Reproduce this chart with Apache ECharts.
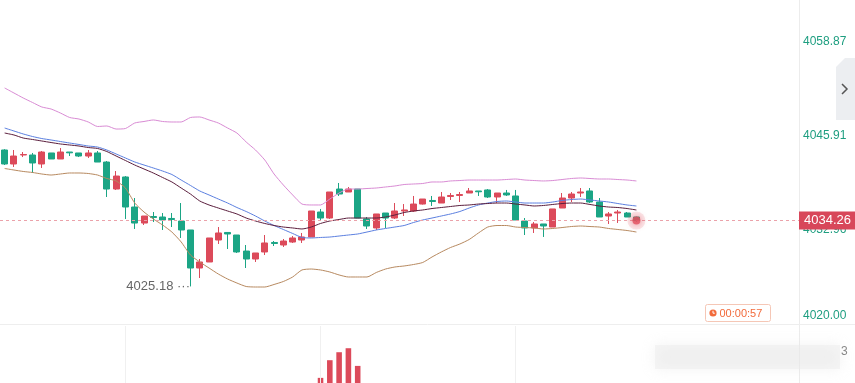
<!DOCTYPE html>
<html><head><meta charset="utf-8">
<script src="https://cdn.jsdelivr.net/npm/echarts@6/dist/echarts.min.js"></script>
<style>html,body{margin:0;padding:0;background:#fff}#c{width:855px;height:383px}</style>
</head><body><div id="c"></div>
<script>
// ---- data ----
const openP = [4043.99,4042.06,4043.30,4043.30,4042.06,4043.58,4042.75,4043.71,4043.58,4043.16,
4043.58,4042.33,4038.61,4040.27,4036.13,4033.92,4034.82,4034.75,4034.55,4034.20,
4032.96,4027.72,4028.55,4031.58,4032.62,4032.27,4030.06,4028.96,4029.93,4031.24,
4030.89,4031.30,4031.58,4032.00,4035.44,4034.61,4038.61,4038.20,4038.61,4034.48,
4033.24,4035.30,4034.61,4035.58,4035.58,4036.54,4037.03,4036.68,4037.58,4037.72,
4038.06,4038.34,4038.48,4037.51,4038.06,4037.65,4034.20,4033.24,4033.79,4033.37,
4035.99,4037.37,4038.06,4038.34,4036.82,4034.89,4035.30,4035.30,4034.75];
const closeP = [4042.06,4043.16,4043.37,4042.20,4043.71,4042.75,4043.71,4043.60,4043.16,4043.58,
4042.33,4038.61,4040.40,4036.13,4033.92,4034.89,4034.68,4034.34,4034.41,4032.96,
4027.72,4028.55,4031.86,4032.55,4032.41,4029.93,4028.96,4029.79,4031.17,4031.10,
4031.44,4031.86,4032.00,4035.58,4034.61,4038.20,4037.92,4038.61,4034.61,4033.51,
4035.17,4034.61,4035.58,4035.72,4036.54,4037.23,4036.89,4037.51,4037.72,4037.85,
4038.34,4038.23,4037.51,4038.06,4037.79,4034.34,4033.24,4033.79,4033.51,4035.86,
4037.37,4037.92,4038.20,4036.82,4034.75,4035.17,4035.44,4034.75,4034.26];
const lowP = [4041.92,4041.65,4043.02,4040.82,4041.51,4042.75,4042.75,4043.16,4043.02,4042.89,
4042.33,4037.51,4038.48,4034.48,4033.10,4033.65,4034.06,4032.96,4033.37,4031.86,
4025.18,4026.34,4028.55,4031.03,4030.34,4029.79,4027.72,4028.55,4029.51,4030.75,
4030.62,4031.17,4031.17,4032.00,4034.34,4034.48,4037.65,4038.20,4034.61,4033.10,
4032.96,4033.24,4034.48,4034.89,4035.44,4036.47,4036.27,4036.68,4037.10,4036.82,
4038.06,4037.65,4037.37,4036.68,4037.65,4034.34,4032.27,4032.55,4032.00,4033.37,
4035.99,4036.82,4037.51,4036.68,4034.75,4033.79,4033.93,4034.75,4034.10];
const highP = [4044.10,4043.99,4043.71,4043.58,4043.85,4043.58,4044.26,4043.71,4043.58,4043.99,
4043.85,4042.47,4041.09,4040.40,4037.37,4034.89,4035.44,4035.30,4035.30,4036.68,
4032.96,4028.96,4031.86,4033.37,4032.68,4032.27,4030.89,4029.79,4032.27,4031.44,
4031.72,4032.13,4032.55,4035.58,4035.86,4038.20,4039.44,4038.89,4038.61,4034.75,
4035.17,4035.30,4036.68,4036.54,4037.65,4037.23,4037.65,4038.20,4038.06,4038.20,
4038.75,4038.34,4038.61,4038.06,4038.48,4038.48,4034.61,4034.06,4033.79,4035.86,
4038.06,4038.20,4038.75,4038.75,4037.37,4035.44,4035.72,4035.44,4034.80];
const bollUpper = [4052.54,4051.85,4051.16,4050.54,4049.92,4049.64,4049.09,4048.47,4048.26,4047.85,
4047.23,4047.30,4046.88,4046.95,4047.71,4047.92,4048.13,4047.92,4047.85,4047.85,
4048.47,4048.54,4048.13,4047.71,4047.02,4046.33,4045.09,4043.99,4042.61,4040.68,
4039.16,4037.79,4036.54,4036.41,4036.41,4037.23,4038.06,4038.61,4038.61,4038.68,
4038.75,4038.89,4039.03,4039.23,4039.30,4039.37,4039.58,4039.58,4039.72,4039.78,
4039.85,4039.85,4039.85,4039.85,4039.92,4039.99,4039.85,4039.78,4039.72,4039.78,
4039.92,4040.06,4040.13,4040.06,4039.99,4039.99,4039.92,4039.85,4039.72];
const bollMid = [4047.02,4046.61,4046.20,4045.85,4045.57,4045.37,4045.16,4044.95,4044.75,4044.54,
4044.40,4043.99,4043.44,4042.89,4042.34,4041.92,4041.51,4041.09,4040.61,4039.85,
4039.10,4038.34,4037.79,4037.23,4036.68,4036.06,4035.51,4034.89,4034.20,4033.58,
4033.03,4032.48,4031.93,4031.86,4031.93,4031.99,4032.13,4032.27,4032.41,4032.68,
4032.96,4033.17,4033.37,4033.58,4033.99,4034.34,4034.61,4034.89,4035.17,4035.51,
4035.99,4036.41,4036.68,4036.89,4036.96,4036.82,4036.68,4036.68,4036.68,4036.82,
4037.03,4037.16,4037.23,4037.10,4036.96,4036.82,4036.61,4036.41,4036.27];
const maLine = [4046.33,4046.06,4045.64,4045.44,4045.23,4045.02,4044.82,4044.68,4044.54,4044.33,
4044.20,4043.78,4043.16,4042.54,4041.92,4041.37,4040.82,4040.20,4039.58,4038.75,
4037.92,4036.96,4036.41,4035.99,4035.58,4035.17,4034.61,4034.20,4033.86,4033.58,
4033.37,4033.24,4033.10,4033.37,4033.86,4034.20,4034.41,4034.61,4034.61,4034.61,
4034.61,4034.75,4035.03,4035.37,4035.58,4035.72,4035.92,4036.06,4036.20,4036.34,
4036.41,4036.54,4036.61,4036.68,4036.68,4036.54,4036.41,4036.27,4036.34,4036.48,
4036.61,4036.68,4036.68,4036.48,4036.27,4036.13,4036.06,4035.92,4035.72];
const bollLower = [4041.44,4041.23,4041.03,4040.89,4040.68,4040.54,4040.68,4040.82,4040.82,4040.75,
4040.54,4040.06,4039.72,4038.75,4036.68,4035.44,4034.48,4033.65,4032.68,4031.31,
4029.51,4028.55,4027.72,4026.89,4026.20,4025.65,4025.17,4025.10,4025.10,4025.45,
4025.86,4026.48,4027.45,4027.58,4027.45,4027.17,4026.76,4026.48,4026.48,4026.48,
4027.10,4027.58,4027.86,4028.00,4028.20,4028.48,4029.24,4029.93,4030.55,4031.03,
4031.65,4032.55,4033.37,4033.58,4033.58,4033.37,4033.30,4033.24,4033.10,4033.17,
4033.30,4033.44,4033.51,4033.44,4033.37,4033.17,4033.03,4032.89,4032.68];
const volIndex = [34,35,36,37,38];
const volValue = [9,40,54,61,30];
const yTickLabels = ['4020.00','4032.96','4045.91','4058.87'];
const yTickValues = [4020.00,4032.96,4045.91,4058.87];
const lastPrice = 4034.26;
const lowIndex = 20;
const countdownText = '00:00:57';
const volSplitIndex = [13,34,55];

// ---- categories (hidden time axis) ----
const N = 86;
const categories = [];
for (let i = 0; i < N; i++) {
  const m = 10 * 60 + 5 + i;
  categories.push(String(Math.floor(m / 60)).padStart(2, '0') + ':' + String(m % 60).padStart(2, '0'));
}

const yMin = yTickValues[0], yMax = 4064.67;
const yStep = (yTickValues[3] - yTickValues[0]) / 3;
const candles = openP.map((o, i) => [o, closeP[i], lowP[i], highP[i]]);
const volData = volIndex.map((k, j) => [k, volValue[j]]);
const UP = '#dc4a5a', DOWN = '#1ba585';
const FONT = 'Liberation Sans, Arial, sans-serif';

const chart = echarts.init(document.getElementById('c'), null, {renderer: 'canvas'});
chart.setOption({
  animation: false,
  backgroundColor: '#fff',
  textStyle: {fontFamily: FONT},
  grid: [
    {left: -2, top: 0, width: 801, height: 324},
    {left: -2, top: 326, width: 801, bottom: 0}
  ],
  xAxis: [
    {type: 'category', data: categories, gridIndex: 0, boundaryGap: true, show: false},
    {type: 'category', data: categories, gridIndex: 1, boundaryGap: true, show: false}
  ],
  yAxis: [
    {type: 'value', gridIndex: 0, min: yMin, max: yMax, show: false},
    {type: 'value', gridIndex: 0, position: 'right', min: 0, max: yMax - yMin, interval: yStep,
     axisLine: {show: false}, axisTick: {show: false}, splitLine: {show: false},
     axisLabel: {margin: 4, color: '#1e9e80', fontSize: 12, fontFamily: FONT, showMaxLabel: false,
       formatter: function (v) {
         const k = Math.round(v / yStep);
         const t = yTickLabels[k];
         if (t === undefined) return '';
         return k === 0 ? '{low|' + t + '}' : t;
       },
       rich: {low: {padding: [0, 0, 16, 0], color: '#1e9e80', fontSize: 12, fontFamily: FONT}}
     }},
    {type: 'value', gridIndex: 1, min: 0, max: 100, show: false}
  ],
  series: [
    {
      type: 'candlestick', xAxisIndex: 0, yAxisIndex: 0, data: candles, barWidth: '70%',
      itemStyle: {color: UP, color0: DOWN, borderColor: UP, borderColor0: DOWN, borderWidth: 1},
      markLine: {
        silent: true, symbol: ['none', 'none'], animation: false,
        data: [{yAxis: lastPrice}],
        lineStyle: {type: [3, 3], color: '#eba2aa', width: 1},
        label: {show: true, position: 'end', distance: 0, formatter: lastPrice.toFixed(2),
          backgroundColor: '#d8475a', color: '#fff', fontSize: 13, fontFamily: FONT, padding: [3, 5, 2, 5]}
      },
      markPoint: {
        silent: true, symbol: 'circle', symbolSize: 1, animation: false,
        itemStyle: {color: 'rgba(0,0,0,0)'},
        data: [{coord: [lowIndex, lowP[lowIndex]], value: lowP[lowIndex]}],
        label: {show: true, position: 'left', distance: 0, formatter: lowP[lowIndex].toFixed(2) + ' \u00b7\u00b7\u00b7',
          color: '#666', fontSize: 13, fontFamily: FONT}
      }
    },
    {type: 'line', name: 'UP', data: bollUpper, showSymbol: false, smooth: 0.2, lineStyle: {width: 1, color: '#d98bd4'}},
    {type: 'line', name: 'MB', data: bollMid, showSymbol: false, smooth: 0.2, lineStyle: {width: 1, color: '#5b7fe0'}},
    {type: 'line', name: 'MA', data: maLine, showSymbol: false, smooth: 0.2, lineStyle: {width: 1, color: '#5a1d3c'}},
    {type: 'line', name: 'DN', data: bollLower, showSymbol: false, smooth: 0.2, lineStyle: {width: 1, color: '#b7895f'}},
    {type: 'scatter', xAxisIndex: 0, yAxisIndex: 0, silent: true, z: 5,
     data: [
       {value: [openP.length - 1, lastPrice], symbolSize: 18, itemStyle: {color: 'rgba(228,80,96,0.18)'}},
       {value: [openP.length - 1, lastPrice], symbolSize: 8, itemStyle: {color: '#e2505f', shadowBlur: 6, shadowColor: 'rgba(226,80,95,0.9)'}}
     ]},
    {type: 'bar', xAxisIndex: 1, yAxisIndex: 2, data: volData, barWidth: '60%', itemStyle: {color: UP},
     markLine: {silent: true, symbol: ['none', 'none'], animation: false, label: {show: false},
       lineStyle: {type: 'solid', color: '#f0f0f0', width: 1},
       data: volSplitIndex.map(k => ({xAxis: k}))}}
  ],
  graphic: [
    {type: 'line', silent: true, z: 0, shape: {x1: 799.5, y1: 0, x2: 799.5, y2: 383}, style: {stroke: '#ececec', lineWidth: 1}},
    {type: 'line', silent: true, z: 0, shape: {x1: 0, y1: 324.5, x2: 855, y2: 324.5}, style: {stroke: '#eeeeee', lineWidth: 1}},
    {type: 'polygon', silent: true, shape: {points: [[855, 58], [845, 58], [836, 67], [836, 120], [855, 120]]}, style: {fill: '#eceef1'}},
    {type: 'polyline', silent: true, shape: {points: [[842, 84], [847, 89], [842, 94]]}, style: {stroke: '#555', lineWidth: 1.5, fill: null}},
    {type: 'rect', silent: true, shape: {x: 705.5, y: 304.5, width: 65, height: 17, r: 2}, style: {fill: '#fff', stroke: '#f5c7b6', lineWidth: 1}},
    {type: 'circle', silent: true, shape: {cx: 713, cy: 313, r: 3.6}, style: {fill: '#f26b3c'}},
    {type: 'polyline', silent: true, shape: {points: [[713, 310.8], [713, 313.2], [714.8, 313.2]]}, style: {stroke: '#fff', lineWidth: 1, fill: null}},
    {type: 'text', silent: true, style: {x: 719.5, y: 313.5, text: countdownText, fill: '#f26b3c', fontSize: 11, fontFamily: FONT, verticalAlign: 'middle'}},
    {type: 'rect', silent: true, shape: {x: 655, y: 345, width: 185, height: 24}, style: {fill: 'rgba(235,235,235,0.45)', shadowBlur: 14, shadowColor: 'rgba(225,225,225,0.9)'}},
    {type: 'text', silent: true, style: {x: 841, y: 352, text: '3', fill: '#888', fontSize: 12, fontFamily: FONT, verticalAlign: 'middle'}}
  ]
});
</script>
</body></html>
